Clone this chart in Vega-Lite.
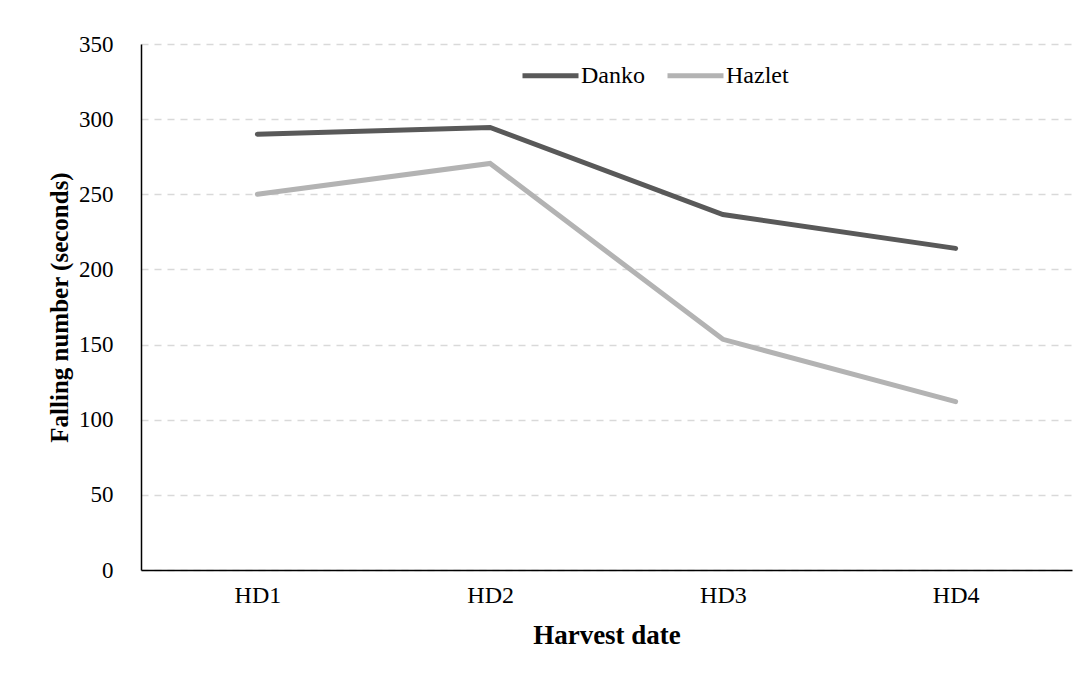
{
  "$schema": "https://vega.github.io/schema/vega-lite/v6.json",
  "autosize": {"type": "none"},
  "width": 931,
  "height": 526,
  "padding": {"left": 141, "top": 44, "right": 20, "bottom": 115},
  "background": "white",
  "data": {
    "values": [
      {"date": "HD1", "cultivar": "Danko", "fn": 290},
      {"date": "HD2", "cultivar": "Danko", "fn": 294.5},
      {"date": "HD3", "cultivar": "Danko", "fn": 236.5},
      {"date": "HD4", "cultivar": "Danko", "fn": 214},
      {"date": "HD1", "cultivar": "Hazlet", "fn": 250},
      {"date": "HD2", "cultivar": "Hazlet", "fn": 270.5},
      {"date": "HD3", "cultivar": "Hazlet", "fn": 153.5},
      {"date": "HD4", "cultivar": "Hazlet", "fn": 112}
    ]
  },
  "mark": {"type": "line", "strokeWidth": 5, "strokeCap": "round", "strokeJoin": "miter"},
  "encoding": {
    "x": {
      "field": "date", "type": "ordinal",
      "scale": {"type": "point", "padding": 0.5},
      "axis": {
        "title": "Harvest date", "labelAngle": 0, "ticks": false,
        "domainColor": "#000000", "domainWidth": 1.5,
        "labelFont": "Liberation Serif", "labelFontSize": 24, "labelColor": "#000000",
        "labelPadding": 13,
        "titleFont": "Liberation Serif", "titleFontSize": 27, "titleFontWeight": "bold",
        "titleColor": "#000000", "titlePadding": 15
      }
    },
    "y": {
      "field": "fn", "type": "quantitative",
      "scale": {"domain": [0, 350]},
      "axis": {
        "title": "Falling number (seconds)", "values": [0, 50, 100, 150, 200, 250, 300, 350],
        "ticks": false, "domainColor": "#000000", "domainWidth": 1.5,
        "grid": true, "gridColor": "#d9d9d9", "gridDash": [7, 6], "gridWidth": 1.3,
        "labelFont": "Liberation Serif", "labelFontSize": 23, "labelColor": "#000000",
        "labelPadding": 28,
        "titleFont": "Liberation Serif", "titleFontSize": 25, "titleFontWeight": "bold",
        "titleColor": "#000000", "titlePadding": 6
      }
    },
    "color": {
      "field": "cultivar", "type": "nominal",
      "scale": {"domain": ["Danko", "Hazlet"], "range": ["#595959", "#b3b3b3"]},
      "legend": {
        "title": null, "orient": "none", "direction": "horizontal",
        "legendX": 379, "legendY": 1,
        "symbolType": "stroke", "symbolSize": 3136, "symbolStrokeWidth": 5,
        "labelFont": "Liberation Serif", "labelFontSize": 24, "labelColor": "#000000",
        "labelOffset": 0, "columnPadding": 12
      }
    }
  },
  "config": {"view": {"stroke": null}}
}
